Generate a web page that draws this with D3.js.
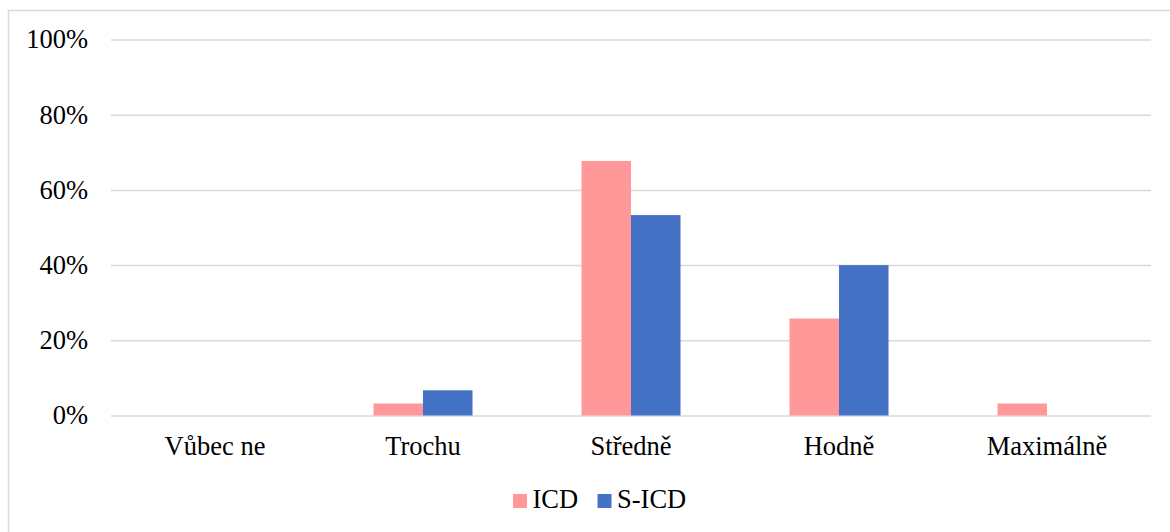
<!DOCTYPE html>
<html>
<head>
<meta charset="utf-8">
<script src="https://cdn.jsdelivr.net/npm/d3@7"></script>
<style>
  html, body { margin: 0; padding: 0; background: #fff; }
  svg { display: block; }
  svg text { font-family: "Liberation Serif", "Times New Roman", serif; fill: #000; }
</style>
</head>
<body>
<div id="chart"></div>
<script>
const categories = ["Vůbec ne", "Trochu", "Středně", "Hodně", "Maximálně"];
const seriesNames = ["ICD", "S-ICD"];
const icdValues = [0, 3.2, 67.7, 25.8, 3.2];
const sicdValues = [0, 6.7, 53.3, 40.0, 0];
const yTicks = [0, 20, 40, 60, 80, 100];
const colors = ["#FF9999", "#4472C4"];

const W = 1170, H = 532;
const FONT = "'Liberation Serif', 'Times New Roman', serif";
const FS = "26.5px";
const svg = d3.select("#chart").append("svg").attr("width", W).attr("height", H);

// chart frame (extends beyond the right and bottom edges)
svg.append("rect")
  .attr("x", 8.5).attr("y", 10.5)
  .attr("width", W + 20).attr("height", H + 20)
  .attr("fill", "#fff").attr("stroke", "#d9d9d9").attr("stroke-width", 1.5);

const plot = { left: 111, right: 1151, top: 39.5, bottom: 415.5 };

const x0 = d3.scaleBand().domain(categories).range([plot.left, plot.right]).paddingInner(0).paddingOuter(0);
const y = d3.scaleLinear().domain([0, 100]).range([plot.bottom, plot.top]);
const barW = 49.5;
const x1 = d3.scaleBand().domain(seriesNames).range([x0.bandwidth() / 2 - barW, x0.bandwidth() / 2 + barW]);

// gridlines + y labels
const yAxis = d3.axisLeft(y).tickValues(yTicks).tickSize(-(plot.right - plot.left)).tickFormat(d => d + "%").tickPadding(23);
const gy = svg.append("g").attr("transform", `translate(${plot.left},0)`).call(yAxis)
  .attr("font-family", null).attr("font-size", null);
gy.select(".domain").remove();
gy.selectAll(".tick line").attr("stroke", "#d9d9d9").attr("stroke-width", 1.5);
gy.selectAll(".tick text").style("font-family", FONT).style("font-size", FS).attr("fill", "#000");

// bars
const data = categories.map((c, i) => ({ cat: c, vals: [icdValues[i], sicdValues[i]] }));
const groups = svg.append("g").selectAll("g").data(data).join("g")
  .attr("transform", d => `translate(${x0(d.cat)},0)`);
groups.selectAll("rect").data(d => d.vals.map((v, j) => ({ s: seriesNames[j], v, j })))
  .join("rect")
  .filter(d => d.v > 0)
  .attr("x", d => x1(d.s))
  .attr("width", x1.bandwidth())
  .attr("y", d => y(d.v))
  .attr("height", d => y(0) - y(d.v))
  .attr("fill", d => colors[d.j]);

// x labels
const xAxis = d3.axisBottom(x0).tickSize(0).tickPadding(21);
const gx = svg.append("g").attr("transform", `translate(0,${plot.bottom})`).call(xAxis)
  .attr("font-family", null).attr("font-size", null);
gx.select(".domain").remove();
gx.selectAll(".tick text").style("font-family", FONT).style("font-size", FS).attr("fill", "#000");

// legend
const legendItems = [{ name: "ICD", x: 513 }, { name: "S-ICD", x: 597.5 }];
const lg = svg.append("g");
legendItems.forEach((it, i) => {
  lg.append("rect").attr("x", it.x).attr("y", 494).attr("width", 14).attr("height", 14).attr("fill", colors[i]);
  lg.append("text").attr("x", it.x + 19.5).attr("y", 508).style("font-family", FONT).style("font-size", FS).text(it.name);
});
</script>
</body>
</html>
